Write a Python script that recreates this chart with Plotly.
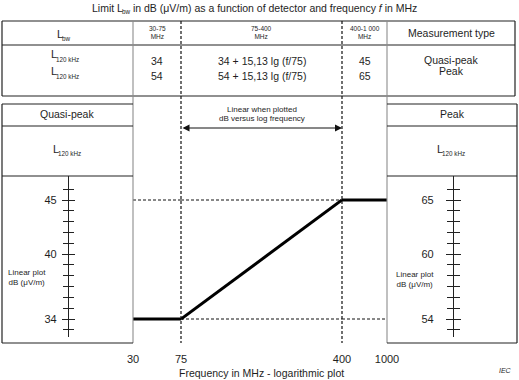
import math
import plotly.graph_objects as go

# ---------------- data ----------------
freq_edges = [30, 75, 400, 1000]          # MHz, band edges
qp_limit = [34, 34, 45, 45]               # dB(uV/m) quasi-peak limit at band edges
pk_limit = [54, 54, 65, 65]               # dB(uV/m) peak limit at band edges
slope_db = 15.13                          # dB per decade in 75-400 MHz band
band_labels = ["30-75<br>MHz", "75-400<br>MHz", "400-1 000<br>MHz"]
detectors = ["Quasi-peak", "Peak"]
bw_label = "120 kHz"
qp_tick_labels = [34, 40, 45]
pk_tick_labels = [54, 60, 65]
qp_minor = list(range(33, 47))
pk_minor = list(range(53, 67))
x_tick_vals = [30, 75, 400, 1000]

# ---------------- layout helpers ----------------
W, H = 519, 380
def X(px): return px / W
def Y(py): return 1 - py / H

FONT = "Liberation Sans, Arial, sans-serif"
TXT = "#1e1e1e"
DARK = "#222222"
GRAY = "#8c8c8c"

# pixel anchors for value scale (45 dB -> y 200, 34 dB -> y 319)
ppd = (319 - 200) / (qp_limit[2] - qp_limit[0])
def yrange(top_px, bot_px, offset=0):
    return [qp_limit[0] + offset - (bot_px - 319) / ppd, qp_limit[2] + offset + (200 - top_px) / ppd]

fig = go.Figure()

dash_style = dict(color="#111111", width=1, dash="3px,2px")
# horizontal dashed reference at 45 dB (30 -> 400 MHz)
fig.add_trace(go.Scatter(x=freq_edges[0:2], y=[qp_limit[2]] * 2, xaxis="x", yaxis="y", mode="lines", line=dash_style, hoverinfo="skip"))
fig.add_trace(go.Scatter(x=freq_edges[1:3], y=[qp_limit[2]] * 2, xaxis="x2", yaxis="y", mode="lines", line=dash_style, hoverinfo="skip"))
# horizontal dashed reference at 34 dB (75 -> 1000 MHz)
fig.add_trace(go.Scatter(x=freq_edges[1:3], y=[qp_limit[0]] * 2, xaxis="x2", yaxis="y", mode="lines", line=dash_style, hoverinfo="skip"))
fig.add_trace(go.Scatter(x=freq_edges[2:4], y=[qp_limit[0]] * 2, xaxis="x3", yaxis="y", mode="lines", line=dash_style, hoverinfo="skip"))

# the limit line, one segment per band
for i, xa in enumerate(["x", "x2", "x3"]):
    fig.add_trace(go.Scatter(x=freq_edges[i:i + 2], y=qp_limit[i:i + 2], xaxis=xa, yaxis="y",
                             mode="lines", line=dict(color="#000000", width=3), hoverinfo="skip"))

# invisible traces so the scale axes get drawn
for ya, vals in [("y2", qp_limit), ("y3", qp_limit), ("y4", pk_limit), ("y5", pk_limit)]:
    fig.add_trace(go.Scatter(x=freq_edges, y=vals, xaxis="x", yaxis=ya, mode="lines",
                             line=dict(width=0, color="rgba(0,0,0,0)"), hoverinfo="skip"))

tickfont = dict(family=FONT, size=11, color=TXT)

def xaxis(dom_px, lo, hi, tv):
    return dict(type="log", domain=[X(dom_px[0]), X(dom_px[1])],
                range=[math.log10(lo) - 1e-6, math.log10(hi) + 1e-6], anchor="y",
                showgrid=False, zeroline=False, showline=False, ticks="", automargin=False,
                tickvals=tv, ticktext=[str(v) for v in tv], tickfont=tickfont,
                ticklabelstandoff=8)

def scale_axis(pos_px, rng, tv, minor_vals, side_ticks, show_labels, standoff, tlen, line):
    return dict(anchor="free", position=X(pos_px), domain=[Y(337), Y(176)], range=rng,
                side="left", showgrid=False, zeroline=False, automargin=False,
                showline=line, linecolor=DARK, linewidth=1.3,
                ticks=side_ticks, tickvals=tv, ticktext=[str(v) for v in tv],
                ticklen=tlen, tickwidth=1.3, tickcolor=DARK,
                showticklabels=show_labels, tickfont=tickfont, ticklabelstandoff=standoff,
                minor=dict(tickvals=minor_vals, ticks=side_ticks, ticklen=tlen - 1,
                           tickwidth=1.3, tickcolor=DARK, showgrid=False))

layout = dict(
    width=W, height=H, autosize=False,
    margin=dict(l=0, r=0, t=0, b=0, pad=0, autoexpand=False),
    paper_bgcolor="white", plot_bgcolor="rgba(0,0,0,0)",
    showlegend=False,
    xaxis=xaxis((133, 181), freq_edges[0], freq_edges[1], [x_tick_vals[0]]),
    xaxis2=xaxis((181, 342), freq_edges[1], freq_edges[2], x_tick_vals[1:3]),
    xaxis3=xaxis((342, 387), freq_edges[2], freq_edges[3], [x_tick_vals[3]]),
    yaxis=dict(domain=[Y(343), Y(176)], range=yrange(176, 343), visible=False, anchor="x", automargin=False),
    yaxis2=scale_axis(68, yrange(176, 337), qp_tick_labels, qp_minor, "outside", True, 3, 6, True),
    yaxis3=scale_axis(68, yrange(176, 337), qp_tick_labels, qp_minor, "inside", False, 0, 6, False),
    yaxis4=scale_axis(453, yrange(176, 337, 20), pk_tick_labels, pk_minor, "outside", True, 10, 7, True),
    yaxis5=scale_axis(453, yrange(176, 337, 20), pk_tick_labels, pk_minor, "inside", False, 0, 7, False),
)
fig.update_layout(**layout)

# ---------------- frame lines (table & side panels) ----------------
shapes = []
def hline(x0, x1, y, color=DARK, w=1.2, dash=None):
    shapes.append(dict(type="line", xref="paper", yref="paper", x0=X(x0), x1=X(x1), y0=Y(y), y1=Y(y),
                       line=dict(color=color, width=w, dash=dash)))
def vline(x, y0, y1, color=DARK, w=1.2, dash=None):
    shapes.append(dict(type="line", xref="paper", yref="paper", x0=X(x), x1=X(x), y0=Y(y0), y1=Y(y1),
                       line=dict(color=color, width=w, dash=dash)))

# table
hline(2, 515, 21); hline(2, 515, 45); hline(2, 515, 96)
vline(2, 21, 96); vline(515, 21, 96)
vline(133, 21, 343, color=GRAY, w=1.1)
vline(387, 21, 343, color=GRAY, w=1.1)
vline(181, 21, 343, color="#111111", w=1.2, dash="3px,2px")
vline(342, 21, 343, color="#111111", w=1.2, dash="3px,2px")
# left panel
hline(2, 133, 104); hline(2, 133, 126); hline(2, 133, 176); hline(2, 133, 343)
vline(2, 104, 343)
# right panel
hline(387, 517, 104); hline(387, 517, 126); hline(387, 517, 176); hline(387, 517, 343)
vline(517, 104, 343)
fig.update_layout(shapes=shapes)

# ---------------- text ----------------
ann = []
def txt(x, y, s, size=10.5, anchor="center", **kw):
    d = dict(x=X(x), y=Y(y), xref="paper", yref="paper", text=s, showarrow=False,
             xanchor=anchor, yanchor="middle", font=dict(family=FONT, size=size, color=TXT))
    d.update(kw)
    ann.append(d)

def l_sub(stroke_x, y_l, y_s, sub, fs=11, fs_sub=6.3):
    """Letter L with a small subscript; stroke_x = pixel of the L's vertical stroke."""
    txt(stroke_x - 1.8, y_l, "L", fs, anchor="left")
    txt(stroke_x + 2.6, y_s, sub, fs_sub, anchor="left")

# title: "Limit L_bw in dB (uV/m) ..." built from three pieces
txt(90, 7.5, "Limit L", 10.5, anchor="left")
txt(119.6, 12, "bw", 6.3, anchor="left")
txt(128.3, 7.5, " in dB (\u03bcV/m) as a function of detector and frequency <i>f</i> in MHz", 10.5, anchor="left")

# table header
l_sub(57, 34, 39, "bw", 11, 6.3)
col_centres = [157, 261.5, 364.5]
for cx, lab in zip(col_centres, band_labels):
    txt(cx, 32.3, lab, 6.5)
txt(451, 33, "Measurement type", 10.5)

# table rows
for lim, ry, ly, sy in [(qp_limit, 60.5, 53.5, 59.5), (pk_limit, 75.5, 71.5, 77)]:
    l_sub(51, ly, sy, bw_label, 11, 6.3)
    txt(col_centres[0], ry, str(lim[0]), 10.5)
    txt(col_centres[1], ry, f"{lim[0]} + {slope_db:.2f}".replace(".", ",") + f" lg (f/{freq_edges[1]})", 10.5)
    txt(col_centres[2], ry, str(lim[-1]), 10.5)
txt(451, 60, detectors[0], 10.5)
txt(451, 71, detectors[1], 10.5)

# side panels
txt(67, 114, detectors[0], 10.5)
l_sub(53, 148.5, 153.5, bw_label, 11, 6.3)
txt(452, 114, detectors[1], 10.5)
l_sub(437, 148.5, 153.5, bw_label, 11, 6.3)

# arrow annotation
txt(262, 109, "Linear when plotted", 8)
txt(262, 119, "dB versus log frequency", 8)
ann.append(dict(x=X(342), y=Y(128), ax=-(342 - 181), ay=0, xref="paper", yref="paper",
                axref="pixel", ayref="pixel", text="", showarrow=True,
                arrowhead=2, startarrowhead=2, arrowside="end+start",
                arrowsize=1.4, startarrowsize=1.4, arrowwidth=1, arrowcolor="#111111"))

txt(27, 277.5, "Linear plot<br>dB (\u03bcV/m)", 8)
txt(415, 279, "Linear plot<br>dB (\u03bcV/m)", 8)

txt(261, 373, "Frequency in MHz - logarithmic plot", 10.5)
txt(505, 370, "<i>IEC</i>", 7)

fig.update_layout(annotations=ann)
fig.write_html("out.html",
               config={"responsive": False, "displayModeBar": False},
               post_script="document.body.style.margin='0px';document.body.style.overflow='hidden';")
